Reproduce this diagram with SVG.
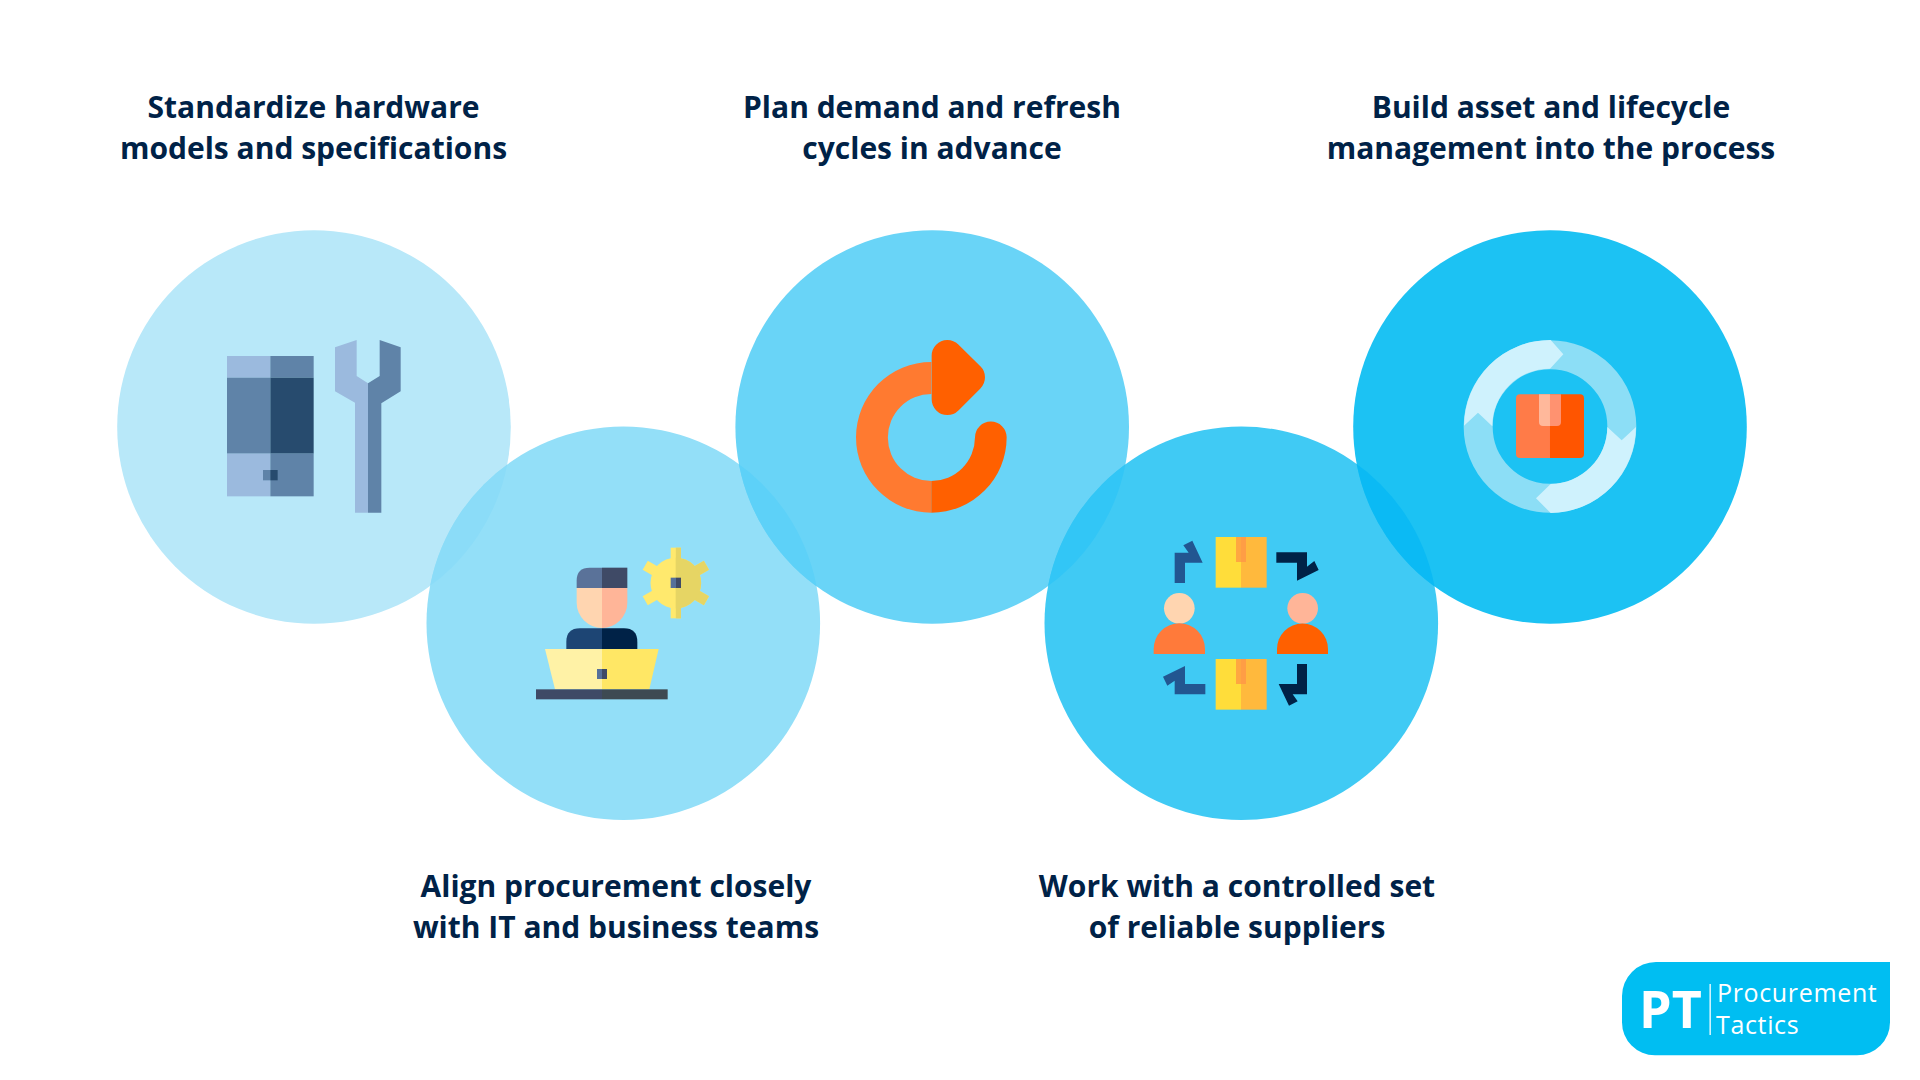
<svg xmlns="http://www.w3.org/2000/svg" width="1920" height="1080" viewBox="0 0 1920 1080">
<defs>
<style>
.t{font-family:"Open Sans","Noto Sans",sans-serif;font-weight:700;font-size:30px;fill:#002247;text-anchor:middle}
.lg{font-family:"Open Sans","Noto Sans",sans-serif;fill:#fff}
</style>
<clipPath id="rh"><rect x="467.5" y="0" width="200" height="300"/></clipPath>
<clipPath id="k2"><circle cx="623.300" cy="623.300" r="196.800"/></clipPath>
<clipPath id="k3"><circle cx="932.200" cy="427" r="196.800"/></clipPath>
<clipPath id="k4"><circle cx="1241.300" cy="623.300" r="196.800"/></clipPath>
<clipPath id="k5"><circle cx="1550" cy="427" r="196.800"/></clipPath>
<g id="box"><rect x="227" width="76" height="152" fill="#ffdd3a"/><rect x="303" width="77" height="152" fill="#ffb93d"/><rect x="288" width="15" height="75" fill="#ffa741"/><rect x="303" width="15" height="75" fill="#ff9d45"/></g>
</defs>
<rect width="1920" height="1080" fill="#fff"/>

<g id="node-1">
<circle cx="314" cy="427" r="196.800" fill="#b8e8f9"/>
<text class="t" x="313.500" y="117.500">Standardize hardware</text>
<text class="t" x="313.500" y="158.500">models and specifications</text>
</g>
<g id="node-2">
<circle cx="623.300" cy="623.300" r="196.800" fill="#93dff8"/>
<circle cx="314" cy="427" r="196.800" fill="#8bdcf8" clip-path="url(#k2)"/>
<text class="t" x="616" y="897">Align procurement closely</text>
<text class="t" x="616" y="938">with IT and business teams</text>
</g>
<g id="node-3">
<circle cx="932.200" cy="427" r="196.800" fill="#69d4f7"/>
<circle cx="623.300" cy="623.300" r="196.800" fill="#5dd1f8" clip-path="url(#k3)"/>
<text class="t" x="932" y="117.500">Plan demand and refresh</text>
<text class="t" x="932" y="158.500">cycles in advance</text>
</g>
<g id="node-4">
<circle cx="1241.300" cy="623.300" r="196.800" fill="#40caf4"/>
<circle cx="932.200" cy="427" r="196.800" fill="#32c6f6" clip-path="url(#k4)"/>
<text class="t" x="1237" y="897">Work with a controlled set</text>
<text class="t" x="1237" y="938">of reliable suppliers</text>
</g>
<g id="node-5">
<circle cx="1550" cy="427" r="196.800" fill="#1cc2f3"/>
<circle cx="1241.300" cy="623.300" r="196.800" fill="#0bbaf4" clip-path="url(#k5)"/>
<text class="t" x="1551" y="117.500">Build asset and lifecycle</text>
<text class="t" x="1551" y="158.500">management into the process</text>
</g>

<g id="icon-hardware" transform="translate(200 320) scale(.33333)">
<rect x="81" y="108" width="130" height="65" fill="#9bbade"/>
<rect x="211" y="108" width="130" height="65" fill="#5f83a8"/>
<rect x="81" y="173" width="130" height="228" fill="#5f83a8"/>
<rect x="211" y="173" width="130" height="228" fill="#274b6e"/>
<rect x="81" y="401" width="130" height="128" fill="#9bbade"/>
<rect x="211" y="401" width="130" height="128" fill="#5f83a8"/>
<rect x="189" y="450" width="22" height="31" fill="#5f83a8"/>
<rect x="211" y="450" width="22" height="31" fill="#274b6e"/>
<path d="M405 82L470 60V168L504 190V578H465V248L405 214Z" fill="#9bbade"/>
<path d="M539 60L602 82V214L544 250V578H504V190L539 168Z" fill="#5f83a8"/>
</g>

<g id="icon-team" transform="translate(520 530) scale(.33333)">
<rect x="452" y="53" width="31" height="212" fill="#ffe96d"/>
<rect x="452" y="53" width="31" height="212" fill="#ffe96d" transform="rotate(60 467.500 159)"/>
<rect x="452" y="53" width="31" height="212" fill="#ffe96d" transform="rotate(-60 467.500 159)"/>
<circle cx="467.500" cy="159" r="76" fill="#ffe96d"/>
<g clip-path="url(#rh)">
<rect x="452" y="53" width="31" height="212" fill="#e6d564"/>
<rect x="452" y="53" width="31" height="212" fill="#e6d564" transform="rotate(60 467.500 159)"/>
<rect x="452" y="53" width="31" height="212" fill="#e6d564" transform="rotate(-60 467.500 159)"/>
<circle cx="467.500" cy="159" r="76" fill="#e6d564"/>
</g>
<rect x="452" y="143" width="16" height="31" fill="#56709a"/>
<rect x="468" y="143" width="15" height="31" fill="#3f4a66"/>
<path d="M170 174V152Q170 113 209 113H246V174Z" fill="#5a7299"/>
<rect x="246" y="113" width="76" height="61" fill="#3f4a66"/>
<path d="M170 174V218A76 76 0 0 0 246 294V174Z" fill="#ffd5b0"/>
<path d="M246 174H322V218A76 76 0 0 1 246 294Z" fill="#ffb598"/>
<path d="M139 357V336Q139 295 180 295H246V357Z" fill="#1d4574"/>
<path d="M246 295H312Q352 295 352 336V357H246Z" fill="#002247"/>
<path d="M75 357H246V478H105Z" fill="#fff2a6"/>
<path d="M246 357H416L388 478H246Z" fill="#ffe765"/>
<rect x="231" y="417" width="15" height="30" fill="#56709a"/>
<rect x="246" y="417" width="15" height="30" fill="#3f4a66"/>
<rect x="48" y="478" width="198" height="30" fill="#3f4a66"/>
<rect x="246" y="478" width="197" height="30" fill="#3e4a52"/>
</g>

<g id="icon-refresh" transform="translate(840 320) scale(.33333)">
<path d="M274 126A226 226 0 0 0 274 578V483A130.500 130.500 0 0 1 274 222Z" fill="#ff7a30"/>
<path d="M274 578A226 226 0 0 0 500 352A47.500 47.500 0 0 0 405 352A131 131 0 0 1 274 483Z" fill="#ff6000"/>
<path d="M322 107V238L388 172Z" fill="#ff6000" stroke="#ff6000" stroke-width="94" stroke-linejoin="round"/>
</g>

<g id="icon-suppliers" transform="translate(1140 520) scale(.33333)">
<use href="#box" y="51"/>
<use href="#box" y="417"/>
<circle cx="118" cy="265" r="46" fill="#ffd5b0"/>
<path d="M41 402V387A77 77 0 0 1 195 387V402Z" fill="#ff7a3a"/>
<circle cx="488" cy="265" r="46" fill="#ffb598"/>
<path d="M411 402V387A76.500 76.500 0 0 1 564 387V402Z" fill="#ff6000"/>
<path d="M104 98H146L130 76L157 62L188 128H135V189H104Z" fill="#225691"/>
<path d="M196 492H135V438L69 470L82 497L104 482V523H196Z" fill="#225691"/>
<path d="M409 97H501V140L523 123L536 150L471 182V128H409Z" fill="#002247"/>
<path d="M501 432H471V492H416L447 557L473 544L458 523H501Z" fill="#002247"/>
</g>

<g id="icon-lifecycle" transform="translate(1450 325) scale(.33333)">
<circle cx="300" cy="304.500" r="215.500" fill="none" stroke="#8cdef6" stroke-width="87"/>
<path d="M42 302A259 259 0 0 1 302 45L340 88L300 131A172 172 0 0 0 127 304L84 263Z" fill="#cff2fd"/>
<path d="M472 306L515 346L558 306A259 259 0 0 1 302 564L258 520L302 477A172 172 0 0 0 472 306Z" fill="#cff2fd"/>
<path d="M300 208H210Q198 208 198 220V387Q198 399 210 399H300Z" fill="#ff7b48"/>
<path d="M300 208H390Q402 208 402 220V387Q402 399 390 399H300Z" fill="#ff5500"/>
<path d="M267 208H300V303H279Q267 303 267 291Z" fill="#ffb89b"/>
<path d="M300 208H333V291Q333 303 321 303H300Z" fill="#ff9270"/>
</g>

<g id="logo">
<path d="M1656 962H1890V1022A33 33 0 0 1 1857 1055.300H1655A33 33 0 0 1 1622 1022V996A34 34 0 0 1 1656 962Z" fill="#00bef2"/>
<text class="lg" x="1639" y="1028" font-size="52" font-weight="700">PT</text>
<rect x="1709.500" y="984" width="1.300" height="51" fill="#fff"/>
<text class="lg" x="1717" y="1002" font-size="25" letter-spacing=".65">Procurement</text>
<text class="lg" x="1716" y="1034" font-size="25" letter-spacing=".65">Tactics</text>
</g>
</svg>
